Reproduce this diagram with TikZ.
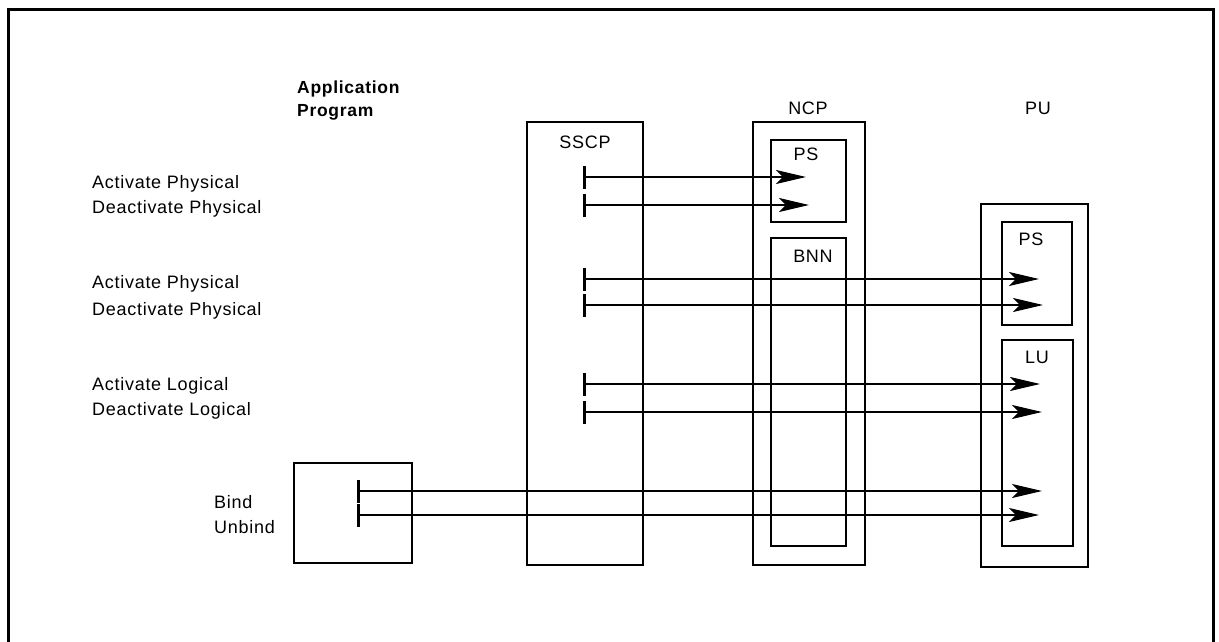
\documentclass[tikz,border=0pt]{standalone}
\usepackage{fontspec}
\setmainfont{Liberation Sans}[LetterSpace=4]
\usetikzlibrary{arrows.meta,fit}
\begin{document}
\begin{tikzpicture}[x=1pt,y=-1pt,
  box/.style={draw, line width=2.2pt, inner sep=0pt},
  lbl/.style={font=\fontsize{18}{21}\selectfont, inner sep=0pt},
  msg/.style={line width=2pt, {Bar[width=23pt,line width=3pt]}-{Stealth[length=30pt,width=14pt,inset=7pt]}},
]
\useasboundingbox (0,0) rectangle (1219,642);
% outer frame (open at the bottom)
\coordinate (fbl) at (8,646);
\coordinate (ftl) at (8,10);
\coordinate (ftr) at (1213,10);
\coordinate (fbr) at (1213,646);
\draw[line width=3pt] (fbl) -- (ftl) -- (ftr) -- (fbr);

% boxes
\node[box, fit={(527,122) (643,565)}] (sscp) {};
\node[box, fit={(753,122) (865,565)}] (ncp) {};
\node[box, fit={(771,140) (846,222)}] (ncpps) {};
\node[box, fit={(771,238) (846,546)}] (bnn) {};
\node[box, fit={(981,204) (1088,567)}] (pu) {};
\node[box, fit={(1002,222) (1072,325)}] (pups) {};
\node[box, fit={(1002,340) (1073,546)}] (lu) {};
\node[box, fit={(294,463) (412,563)}] (app) {};

% box labels
\node[lbl, font=\fontsize{17.5}{20}\selectfont\bfseries, anchor=base west] (tapp1) at (297,94) {Application};
\node[lbl, font=\fontsize{17.5}{20}\selectfont\bfseries, anchor=base west] (tapp2) at (297,117) {Program};
\node[lbl, anchor=base] (tncp) at (808,114) {NCP};
\node[lbl, anchor=base] (tpu) at (1038,114) {PU};
\node[lbl, anchor=base] (tsscp) at (585,148) {SSCP};
\node[lbl, anchor=base] (tncpps) at (806,160) {PS};
\node[lbl, anchor=base] (tbnn) at (813,262) {BNN};
\node[lbl, anchor=base] (tpups) at (1031,245) {PS};
\node[lbl, anchor=base] (tlu) at (1037,363) {LU};

% message labels
\node[lbl, anchor=base west] (m1) at (92,188) {Activate Physical};
\node[lbl, anchor=base west] (m2) at (92,213) {Deactivate Physical};
\node[lbl, anchor=base west] (m3) at (92,288) {Activate Physical};
\node[lbl, anchor=base west] (m4) at (92,315) {Deactivate Physical};
\node[lbl, anchor=base west] (m5) at (92,390) {Activate Logical};
\node[lbl, anchor=base west] (m6) at (92,415) {Deactivate Logical};
\node[lbl, anchor=base west] (m7) at (214,508) {Bind};
\node[lbl, anchor=base west] (m8) at (214,533) {Unbind};

% arrow end points
\coordinate (s1) at (583,177); \coordinate (e1) at (806,177);
\coordinate (s2) at (583,205); \coordinate (e2) at (809,205);
\coordinate (s3) at (583,279); \coordinate (e3) at (1039,279);
\coordinate (s4) at (583,305); \coordinate (e4) at (1043,305);
\coordinate (s5) at (583,384); \coordinate (e5) at (1040,384);
\coordinate (s6) at (583,412); \coordinate (e6) at (1042,412);
\coordinate (s7) at (357,491); \coordinate (e7) at (1042,491);
\coordinate (s8) at (357,515); \coordinate (e8) at (1039,515);

\foreach \i in {1,...,8} {\draw[msg] (s\i) -- (e\i);}
\end{tikzpicture}
\end{document}
